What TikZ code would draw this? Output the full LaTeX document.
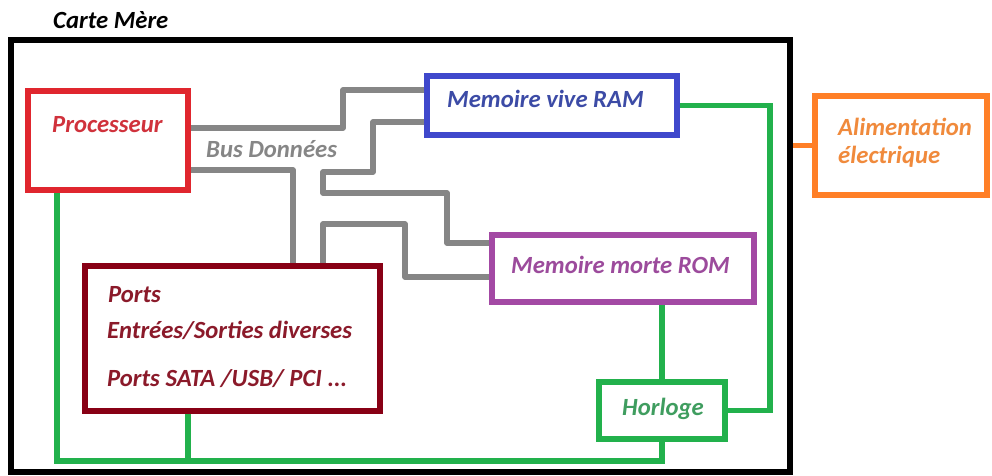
\documentclass[tikz,border=0pt]{standalone}
\usepackage{fontspec}
\setmainfont{Carlito}
\definecolor{cpuRed}{HTML}{E0262E}
\definecolor{cpuText}{HTML}{D0323C}
\definecolor{ramBlue}{HTML}{3F48CC}
\definecolor{ramText}{HTML}{3C4BA6}
\definecolor{romPurple}{HTML}{A349A4}
\definecolor{romText}{HTML}{9C4B9C}
\definecolor{portRed}{HTML}{880015}
\definecolor{portText}{HTML}{8B1A2A}
\definecolor{clkGreen}{HTML}{22B14C}
\definecolor{clkText}{HTML}{3F9D5F}
\definecolor{pwrOrange}{HTML}{FF7F27}
\definecolor{pwrText}{HTML}{F08A3C}
\definecolor{busGray}{HTML}{868686}
\tikzset{
  unitbox/.style={draw=#1, line width=6pt, rectangle, inner sep=0pt, fill=white},
  lbl/.style={anchor=base west, inner sep=0pt, font=\fontsize{24.7}{28}\selectfont\bfseries\itshape},
  bus/.style={draw=busGray, line width=5.5pt, line join=round},
  clk/.style={draw=clkGreen, line width=5.5pt, line join=miter},
}
\begin{document}
\begin{tikzpicture}[x=1pt, y=-1pt]
\useasboundingbox (0,0) rectangle (992,475);

% motherboard outline
\node[draw=black, line width=6.5pt, rectangle, inner sep=0pt,
      minimum width=779pt, minimum height=432pt] (board) at (400.5,256) {};
\node[lbl, text=black] (title) at (53,28) {Carte Mère};

% components
\node[unitbox=cpuRed, minimum width=160pt, minimum height=99pt] (proc) at (108,140.5) {};
\node[unitbox=ramBlue, minimum width=250pt, minimum height=59pt] (ram) at (552,105.5) {};
\node[unitbox=romPurple, minimum width=262pt, minimum height=67pt] (rom) at (623,268.5) {};
\node[unitbox=portRed, minimum width=295pt, minimum height=145pt] (ports) at (232.5,338.5) {};
\node[unitbox=clkGreen, minimum width=126pt, minimum height=57pt] (horl) at (662,410.5) {};
\node[unitbox=pwrOrange, minimum width=172pt, minimum height=99pt] (alim) at (901,145.5) {};

% labels
\node[lbl, text=cpuText] (tproc) at (52,132) {Processeur};
\node[lbl, text=ramText] (tram) at (447,107) {Memoire vive RAM};
\node[lbl, text=romText] (trom) at (511,273) {Memoire morte ROM};
\node[lbl, text=portText] (tports1) at (108,302) {Ports};
\node[lbl, text=portText] (tports2) at (107,338) {Entrées/Sorties diverses};
\node[lbl, text=portText] (tports3) at (107,386) {Ports SATA /USB/ PCI ...};
\node[lbl, text=clkText] (thorl) at (622,415) {Horloge};
\node[lbl, text=pwrText] (talim1) at (838,135) {Alimentation};
\node[lbl, text=pwrText] (talim2) at (838,163) {électrique};
\node[lbl, text=busGray] (tbus) at (206,157) {Bus Données};

% data bus
\draw[bus] (proc.east |- 0,128) -| (343,90) -- (ram.west |- 0,90);
\draw[bus] (ram.west |- 0,122) -| (373,172) -| (323,193) -| (447,243) -- (rom.west |- 0,243);
\draw[bus] (proc.east |- 0,170) -| (ports.north -| 293,0);
\draw[bus] (ports.north -| 323,0) |- (405,224) |- (rom.west |- 0,277);

% clock distribution
\draw[clk] (proc.south -| 57,0) -- (57,461) -| (horl.south);
\draw[clk] (ports.south -| 188,0) -- (188,461);
\draw[clk] (rom.south -| horl.north) -- (horl.north);
\draw[clk] (horl.east) -- (horl.east -| 770,0) |- (ram.east);

% power feed
\draw[draw=pwrOrange, line width=5.5pt] (alim.west) -- (alim.west -| board.east);
\end{tikzpicture}
\end{document}
